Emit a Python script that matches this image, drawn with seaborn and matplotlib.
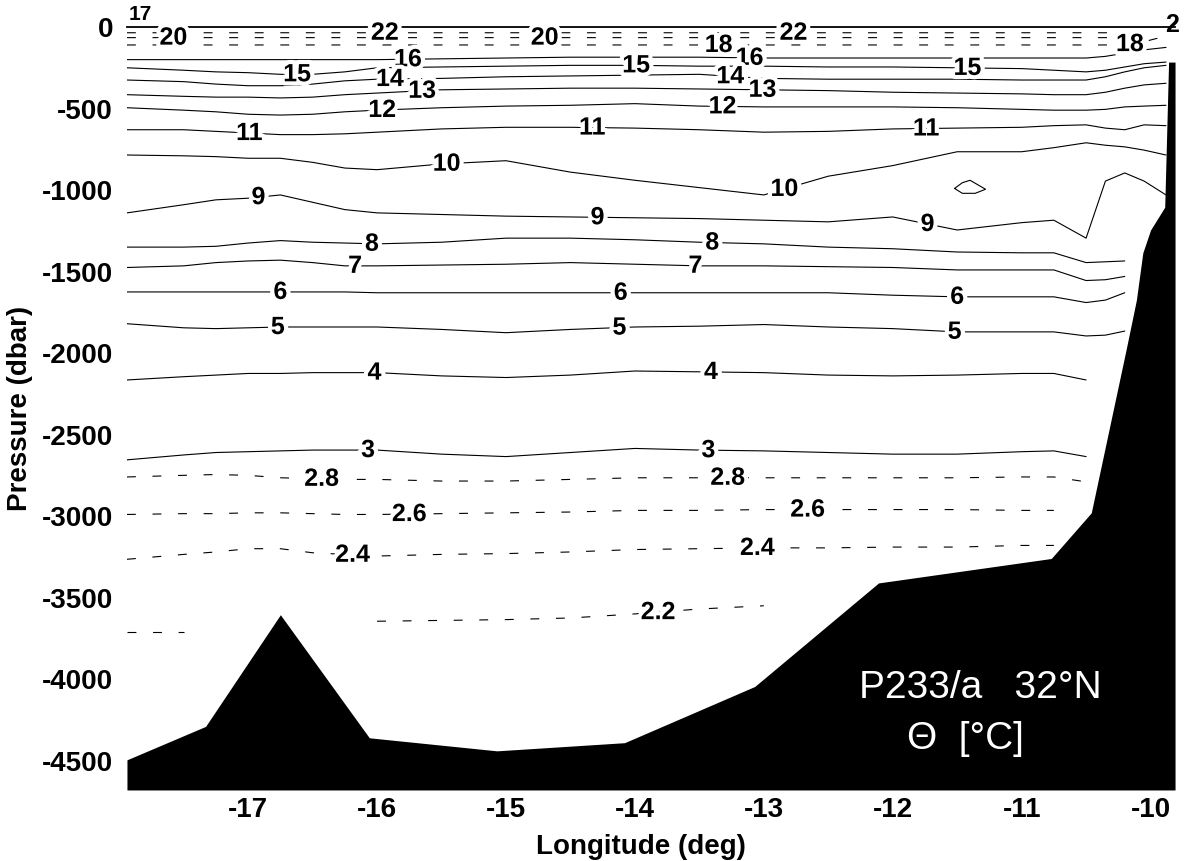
import numpy as np
import pandas as pd
import matplotlib
matplotlib.use('Agg')
import matplotlib.pyplot as plt
import matplotlib.patheffects as pe
import seaborn as sns

# station longitudes (deg) shared by all isotherms
lon = [-17.94, -17.5, -17.25, -17.0, -16.75, -16.5, -16.25, -16.0, -15.5, -15.0, -14.5, -14.0,
       -13.5, -13.0, -12.5, -12.0, -11.5, -11.0, -10.75, -10.5, -10.35, -10.2, -10.05, -9.88]
nan = np.nan

# isotherm pressures (dbar, negative down)
t22 = [-35] * 22 + [-30, nan]
t20 = [-65] * 22 + [-55, nan]
t18 = [-110] * 22 + [-90, -55]
t16 = [-200] * 8 + [-195, -190, -185, -185, -185] + [-190] * 7 + [-180, -160, -140, -125]
t15 = [-250, -265, -275, -280, -290, -290, -275, -250, -245, -240, -235, -235,
       -240, -240, -245, -245, -250, -255, -265, -275, -265, -245, -225, -215]
t14 = [-325, -335, -350, -360, -360, -350, -330, -320, -315, -305, -300, -295,
       -290, -315, -320, -320, -320, -325, -325, -325, -305, -275, -250, -235]
t13 = [-415, -425, -430, -430, -435, -430, -415, -405, -385, -380, -375, -375,
       -380, -385, -390, -400, -405, -410, -415, -415, -400, -375, -355, -345]
t12 = [-495, -510, -520, -535, -540, -535, -520, -510, -495, -485, -480, -470,
       -485, -490, -490, -490, -495, -505, -510, -510, -505, -490, -485, -480]
t11 = [-630, -630, -640, -650, -660, -660, -655, -645, -625, -615, -615, -620,
       -630, -645, -640, -625, -620, -615, -605, -600, -620, -630, -600, -605]
t10 = [-785, -790, -795, -805, -805, -830, -865, -875, -840, -820, -890, -940,
       -985, -1030, -915, -850, -765, -765, -740, -710, -725, -735, -755, -785]
t9 = [-1140, -1090, -1060, -1050, -1030, -1075, -1120, -1140, -1150, -1160, -1165, -1170,
      -1175, -1185, -1195, -1165, -1245, -1200, -1185, -1295, -945, -895, -945, -1030]
t8 = [-1350, -1350, -1345, -1325, -1310, -1320, -1325, -1330, -1320, -1295, -1295, -1305,
      -1320, -1330, -1350, -1360, -1380, -1385, -1385, -1445, -1440, -1435, nan, nan]
t7 = [-1475, -1465, -1445, -1435, -1430, -1445, -1465, -1465, -1460, -1455, -1445, -1455,
      -1465, -1465, -1470, -1475, -1490, -1490, -1490, -1555, -1550, -1530, nan, nan]
t6 = [-1625, -1625, -1625, -1625, -1625, -1625, -1625, -1630, -1630, -1630, -1630, -1630,
      -1630, -1630, -1630, -1645, -1655, -1655, -1655, -1690, -1675, -1630, nan, nan]
t5 = [-1820, -1845, -1850, -1845, -1840, -1840, -1840, -1840, -1855, -1875, -1855, -1840,
      -1835, -1825, -1840, -1850, -1870, -1870, -1870, -1895, -1890, -1865, nan, nan]
t4 = [-2165, -2145, -2135, -2125, -2125, -2120, -2120, -2120, -2140, -2150, -2135, -2110,
      -2115, -2120, -2135, -2140, -2135, -2125, -2125, -2165, nan, nan, nan, nan]
t3 = [-2655, -2625, -2610, -2605, -2600, -2595, -2595, -2595, -2620, -2635, -2610, -2585,
      -2595, -2600, -2610, -2620, -2620, -2605, -2600, -2635, nan, nan, nan, nan]
t2_8 = [-2760, -2750, -2745, -2750, -2765, -2770, -2775, -2775, -2785, -2785, -2775, -2765,
        -2765, -2765, -2765, -2765, -2765, -2760, -2760, -2790, nan, nan, nan, nan]
t2_6 = [-2990, -2985, -2985, -2980, -2980, -2985, -2990, -2990, -2985, -2980, -2975, -2965,
        -2965, -2960, -2960, -2960, -2960, -2965, -2965, nan, nan, nan, nan, nan]
t2_4 = [-3265, -3235, -3220, -3200, -3200, -3225, -3235, -3245, -3235, -3230, -3220, -3205,
        -3200, -3195, -3195, -3190, -3190, -3180, -3180, nan, nan, nan, nan, nan]
t2_2 = [-3710, -3710, nan, nan, nan, nan, nan, -3645, -3640, -3635, -3625, -3600,
        -3570, -3550, nan, nan, nan, nan, nan, nan, nan, nan, nan, nan]

# small closed 10 degC patch near 11.4W
loop10_lon = [-11.52, -11.46, -11.40, -11.28, -11.36, -11.46, -11.52]
loop10_p = [-990, -955, -940, -995, -1020, -1020, -990]

# bottom topography
bathy_lon = [-17.94, -17.33, -16.75, -16.06, -15.07, -14.08, -13.07, -12.11, -10.77,
             -10.46, -10.19, -10.11, -10.06, -10.00, -9.89, -9.86, -9.81]
bathy_p = [-4495, -4290, -3605, -4360, -4440, -4390, -4045, -3410, -3260,
           -2980, -1980, -1675, -1385, -1245, -1105, -215, -215]

# where the inline labels sit (longitude)
label_lon = {22: [-15.94, -12.77], 20: [-17.58, -14.70], 18: [-13.35, -10.16],
             16: [-15.76, -13.11], 15: [-16.62, -13.99, -11.42], 14: [-15.90, -13.26],
             13: [-15.65, -13.01], 12: [-15.96, -13.32], 11: [-16.99, -14.33, -11.74],
             10: [-15.46, -12.84], 9: [-16.92, -14.29, -11.73], 8: [-16.04, -13.40],
             7: [-16.17, -13.53], 6: [-16.75, -14.11, -11.50], 5: [-16.77, -14.12, -11.52],
             4: [-16.02, -13.41], 3: [-16.07, -13.43], 2.8: [-16.43, -13.28],
             2.6: [-15.75, -12.66], 2.4: [-16.19, -13.05], 2.2: [-13.82]}

isotherms = [(22, t22, 'dashed'), (20, t20, 'dashed'), (18, t18, 'dashed'),
             (16, t16, 'solid'), (15, t15, 'solid'), (14, t14, 'solid'), (13, t13, 'solid'),
             (12, t12, 'solid'), (11, t11, 'solid'), (10, t10, 'solid'), (9, t9, 'solid'),
             (8, t8, 'solid'), (7, t7, 'solid'), (6, t6, 'solid'), (5, t5, 'solid'),
             (4, t4, 'solid'), (3, t3, 'solid'), (2.8, t2_8, 'dashed'), (2.6, t2_6, 'dashed'),
             (2.4, t2_4, 'dashed'), (2.2, t2_2, 'dashed')]

rows = []
for val, pres, kind in isotherms:
    seg = 0
    for x, p in zip(lon, pres):
        if np.isnan(p):
            seg += 1
            continue
        rows.append({'lon': x, 'p': p, 'unit': f'{val}-{seg}', 'kind': kind})
for x, p in zip(loop10_lon, loop10_p):
    rows.append({'lon': x, 'p': p, 'unit': 'loop10', 'kind': 'solid'})
df = pd.DataFrame(rows)

sns.set_style('white')
plt.rcParams['font.family'] = ['Liberation Sans', 'DejaVu Sans']
plt.rcParams['font.weight'] = 'bold'
plt.rcParams['axes.labelweight'] = 'bold'
plt.rcParams['axes.unicode_minus'] = False
for k in ['text.color', 'axes.labelcolor', 'xtick.color', 'ytick.color']:
    plt.rcParams[k] = 'black'

fig, ax = plt.subplots(figsize=(11.91, 8.61), dpi=100)
fig.subplots_adjust(left=0.1066, right=0.9866, top=0.9686, bottom=0.0825)

sns.lineplot(data=df, x='lon', y='p', units='unit', estimator=None, sort=False,
             style='kind', dashes={'solid': '', 'dashed': (8, 15)},
             color='black', lw=0.8, legend=False, ax=ax, zorder=2)

ymin = -4680
ax.fill_between(bathy_lon, bathy_p, ymin, color='black', lw=0, zorder=3)

halo = [pe.withStroke(linewidth=6, foreground='white')]
for val, pres, kind in isotherms:
    pr = np.array(pres, dtype=float)
    ok = ~np.isnan(pr)
    for x in label_lon[val]:
        y = np.interp(x, np.array(lon)[ok], pr[ok])
        ax.text(x, y, f'{val:g}', ha='center', va='center', fontsize=18,
                zorder=4, path_effects=halo)
ax.text(-17.93, 75, '17', ha='left', va='center', fontsize=15, clip_on=False, zorder=4)
ax.text(-9.83, 15, '2', ha='center', va='center', fontsize=18, clip_on=False, zorder=4)

ax.text(0.814, 0.134, 'P233/a   32°N', transform=ax.transAxes, color='white',
        fontsize=28, fontweight='normal', ha='center', va='center', zorder=5)
ax.text(0.80, 0.067, 'Θ  [°C]', transform=ax.transAxes, color='white',
        fontsize=28, fontweight='normal', ha='center', va='center', zorder=5)

ax.set_xlim(-17.94, -9.81)
ax.set_ylim(ymin, 0)
ax.set_xticks(range(-17, -9))
ax.set_yticks(range(0, -4501, -500))
ax.tick_params(axis='y', direction='in', length=5, width=0.8, pad=10, labelsize=20)
ax.tick_params(axis='x', length=0, pad=5, labelsize=20)
for s in ['left', 'right', 'bottom']:
    ax.spines[s].set_visible(False)
ax.spines['top'].set_linewidth(1.3)
ax.spines['top'].set_color('black')
ax.set_xlabel('Longitude (deg)', fontsize=20, labelpad=5)
ax.set_ylabel('Pressure (dbar)', fontsize=20, labelpad=6)
ax.xaxis.set_label_coords(0.49, -0.058)

fig.savefig('out.png', dpi=100)
